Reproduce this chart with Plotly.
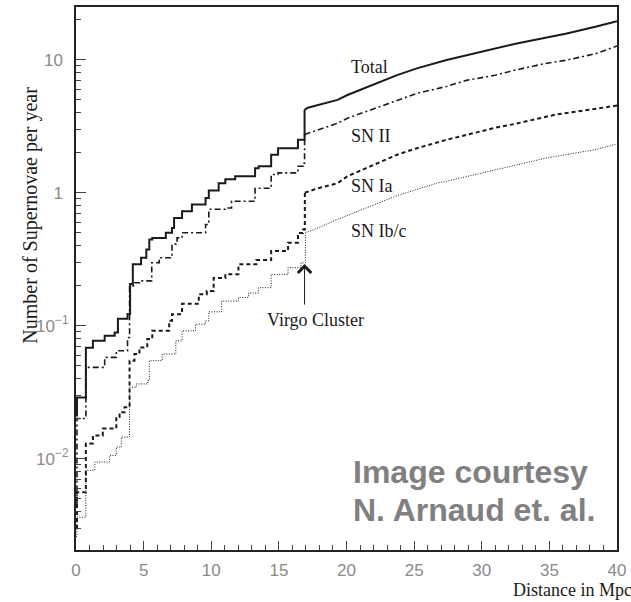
import plotly.graph_objects as go

# ---- data (distance in Mpc, supernovae per year) ----
# stepped part up to the Virgo cluster jump
total_near_d = [0, 0.07, 0.73, 1.25, 2.12, 2.86, 3.1, 3.81, 4.0, 4.2, 4.81, 5.2, 5.42, 5.64, 6.64,
                7.1, 7.25, 7.84, 8.57, 9.58, 9.82, 10.55, 11.04, 11.77, 13.24, 13.5, 14.43, 14.94, 16.41, 16.9]
total_near_v = [0.0211, 0.0288, 0.0682, 0.0769, 0.0839, 0.0888, 0.1125, 0.1225, 0.2056, 0.289, 0.3236, 0.374,
                0.445, 0.457, 0.499, 0.543, 0.646, 0.726, 0.815, 0.912, 1.04, 1.18, 1.26, 1.33, 1.53, 1.58,
                1.93, 2.16, 2.50, 4.20]
total_far_d = [16.9, 17.14, 19.34, 20.07, 23.74, 25.2, 27.4, 28.86, 31.06, 32.5, 33.6, 36.2, 38.4, 40]
total_far_v = [4.20, 4.36, 4.99, 5.43, 7.67, 8.61, 9.95, 10.8, 12.2, 13.2, 13.9, 15.7, 17.7, 19.5]

sn2_near_d = [0, 0.07, 0.73, 2.12, 2.98, 3.81, 3.96, 4.32, 4.69, 5.6, 6.15, 7.1, 7.47, 7.84, 9.58, 9.82,
              11.04, 11.5, 13.24, 14.43, 14.94, 16.41, 16.78, 16.9]
sn2_near_v = [0.0045, 0.02, 0.0485, 0.0577, 0.0647, 0.0814, 0.199, 0.21, 0.217, 0.297, 0.324, 0.41, 0.457,
              0.5, 0.577, 0.751, 0.767, 0.862, 1.08, 1.37, 1.41, 1.58, 1.67, 2.74]
sn2_far_d = [16.9, 17.88, 19.34, 20.07, 23.74, 25.2, 27.4, 28.86, 31.06, 32.5, 34.7, 36.2, 38.4, 40]
sn2_far_v = [2.74, 2.97, 3.33, 3.63, 4.99, 5.59, 6.3, 7.0, 7.67, 8.37, 9.38, 9.9, 11.1, 12.7]

sn1a_near_d = [0, 0.07, 0.73, 1.25, 1.98, 2.98, 3.22, 3.59, 3.96, 4.32, 4.69, 5.27, 5.64, 6.89, 7.1, 7.84,
               9.08, 9.67, 10.18, 11.04, 12.01, 13.33, 14.43, 15.68, 16.41, 16.78, 16.92]
sn1a_near_v = [0.003, 0.00558, 0.013, 0.0149, 0.0168, 0.0205, 0.0223, 0.0243, 0.0545, 0.0611, 0.0686, 0.0792,
               0.0914, 0.109, 0.122, 0.146, 0.172, 0.182, 0.228, 0.243, 0.289, 0.311, 0.364, 0.42, 0.497,
               0.528, 1.0]
sn1a_far_d = [16.92, 17.88, 19.34, 20.07, 23.74, 25.2, 27.4, 28.86, 31.06, 32.5, 35.46, 40]
sn1a_far_v = [1.0, 1.08, 1.18, 1.33, 1.93, 2.16, 2.5, 2.73, 3.09, 3.3, 3.87, 4.52]

sn1bc_near_d = [0, 0.07, 0.73, 1.39, 2.49, 2.98, 3.35, 3.96, 4.45, 5.3, 5.42, 6.37, 7.38, 7.84, 8.84, 9.58,
                9.82, 10.77, 12.01, 12.75, 13.48, 14.43, 15.68, 16.63, 16.96]
sn1bc_near_v = [0.0026, 0.00362, 0.00816, 0.00942, 0.01057, 0.0122, 0.0145, 0.0344, 0.0364, 0.0386, 0.0545,
                0.0611, 0.0769, 0.0914, 0.1026, 0.1087, 0.127, 0.153, 0.163, 0.176, 0.193, 0.243, 0.273,
                0.297, 0.499]
sn1bc_far_d = [16.96, 17.88, 19.34, 20.29, 21.76, 23.74, 26.67, 27.4, 31.06, 34.73, 38.39, 40]
sn1bc_far_v = [0.499, 0.543, 0.63, 0.689, 0.79, 0.95, 1.18, 1.22, 1.49, 1.82, 2.11, 2.33]

y_tick_vals = [0.01, 0.1, 1, 10]
y_tick_text = ["10<sup>\u22122</sup>", "10<sup>\u22121</sup>", "1\u2004", "10\u2004"]
curve_labels = ["Total", "SN II", "SN Ia", "SN Ib/c"]

INK = "#1a1a1a"
SERIF = "Liberation Serif, Times New Roman, serif"
SANS = "Liberation Sans, Arial, sans-serif"

fig = go.Figure()


def add(x, y, shape, dash, width):
    fig.add_trace(go.Scatter(x=x, y=y, mode="lines",
                             line=dict(shape=shape, dash=dash, width=width, color=INK),
                             showlegend=False, hoverinfo="skip"))


styles = [
    (total_near_d, total_near_v, total_far_d, total_far_v, "solid", 2.0),
    (sn2_near_d, sn2_near_v, sn2_far_d, sn2_far_v, "6px,3px,2px,3px", 1.6),
    (sn1a_near_d, sn1a_near_v, sn1a_far_d, sn1a_far_v, "4px,3px", 2.0),
    (sn1bc_near_d, sn1bc_near_v, sn1bc_far_d, sn1bc_far_v, "1px,1.5px", 1.0),
]
for nd, nv, fd, fv, dash, w in styles:
    add(nd, nv, "hv", dash, w)
    add(fd, fv, "linear", dash, w)

minor_vals = [m * 10.0 ** k for k in range(-3, 2) for m in range(2, 10)]

W, H = 631, 602
L, R, T, B = 76, 9, 5, 52
pw, ph = W - L - R, H - T - B


def px(xp):
    return (xp - L) / pw


def py(yp):
    return (H - B - yp) / ph


fig.update_layout(
    width=W, height=H,
    margin=dict(l=L, r=R, t=T, b=B),
    paper_bgcolor="white", plot_bgcolor="white",
    xaxis=dict(range=[0, 40], tick0=0, dtick=5, ticks="inside", ticklen=9, tickwidth=1, tickcolor="#444",
               minor=dict(dtick=1, ticks="inside", ticklen=5, tickwidth=1, tickcolor="#444", showgrid=False),
               showline=True, linewidth=2, linecolor="#222", mirror=True, showgrid=False, zeroline=False,
               tickfont=dict(family=SANS, size=17, color="#8a8a8a"), ticklabelstandoff=4,
               ticklabeloverflow="allow"),
    yaxis=dict(type="log", range=[-2.688, 1.397], tickmode="array", tickvals=y_tick_vals, ticktext=y_tick_text,
               ticks="inside", ticklen=10, tickwidth=1, tickcolor="#444",
               minor=dict(tickmode="array", tickvals=minor_vals, ticks="inside", ticklen=5, tickwidth=1,
                          tickcolor="#444", showgrid=False),
               showline=True, linewidth=2, linecolor="#222", mirror=True, showgrid=False, zeroline=False,
               tickfont=dict(family=SANS, size=17, color="#8a8a8a"), ticklabelstandoff=2),
)

ann = []
# curve labels
for text, yc in zip(curve_labels, [65.3, 134.6, 184.6, 229.6]):
    ann.append(dict(text=text, x=px(352), y=py(yc), xref="paper", yref="paper", xanchor="left",
                    yanchor="middle", showarrow=False, font=dict(family=SERIF, size=18, color=INK)))
# Virgo cluster arrow + label
ann.append(dict(text="", x=16.9, y=-0.537, xref="x", yref="y", showarrow=True, ax=0, ay=42,
                arrowhead=4, arrowsize=2.6, arrowwidth=1.0, arrowcolor=INK, standoff=0))
ann.append(dict(text="Virgo Cluster", x=px(317.5), y=py(319.6), xref="paper", yref="paper",
                xanchor="center", yanchor="middle", showarrow=False, font=dict(family=SERIF, size=18, color=INK)))
# axis titles
ann.append(dict(text="Number of Supernovae per year", x=px(30), y=py(214), xref="paper", yref="paper",
                xanchor="center", yanchor="middle", textangle=-90, showarrow=False,
                font=dict(family=SERIF, size=20, color=INK)))
ann.append(dict(text="Distance in Mpc", x=px(515), y=py(590.6), xref="paper", yref="paper",
                xanchor="left", yanchor="middle", showarrow=False, font=dict(family=SERIF, size=18, color=INK)))
# watermark
for text, yc in [("Image courtesy", 472), ("N. Arnaud et. al.", 509.5)]:
    ann.append(dict(text="<b>" + text + "</b>", x=px(354), y=py(yc), xref="paper", yref="paper",
                    xanchor="left", yanchor="middle", showarrow=False,
                    font=dict(family=SANS, size=32, color="#808080")))
fig.update_layout(annotations=ann)

fig.write_html("out.html")
